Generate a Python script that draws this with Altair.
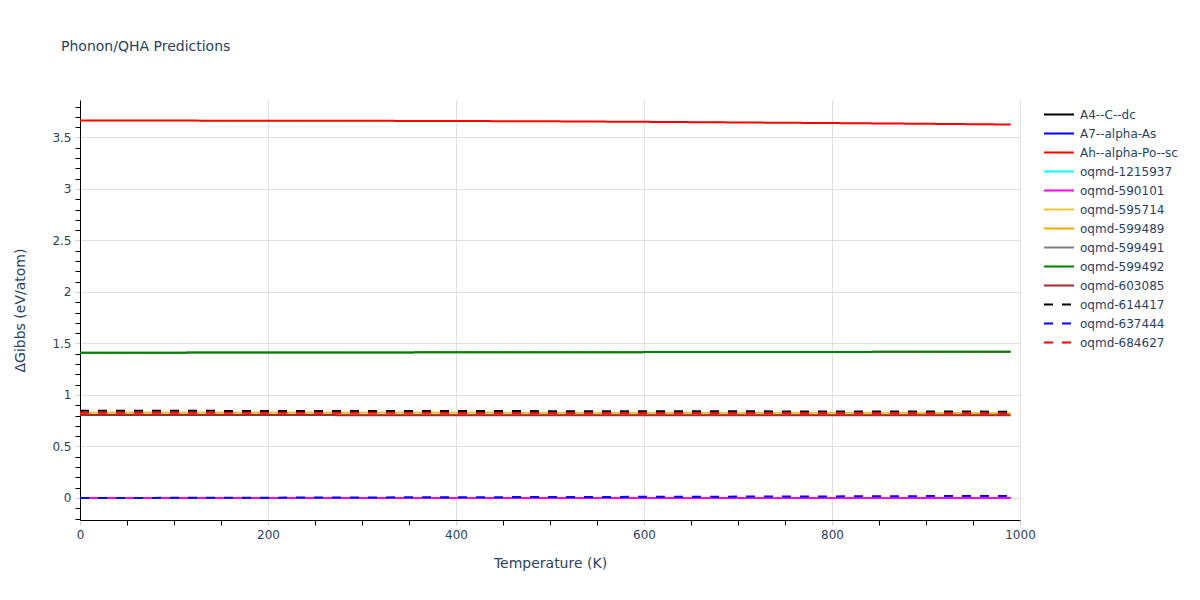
import altair as alt
import pandas as pd

temperatures = [0, 100, 200, 300, 400, 500, 600, 700, 800, 900, 990]

series_names = [
    "A4--C--dc", "A7--alpha-As", "Ah--alpha-Po--sc", "oqmd-1215937",
    "oqmd-590101", "oqmd-595714", "oqmd-599489", "oqmd-599491",
    "oqmd-599492", "oqmd-603085", "oqmd-614417", "oqmd-637444", "oqmd-684627",
]
series_colors = [
    "#000000", "#0000ff", "#ff0000", "#00ffff", "#ff00ff", "#f0c43c",
    "#ffa500", "#808080", "#008000", "#a52a2a", "#000000", "#0000ff", "#ff0000",
]
series_dashed = [False, False, False, False, False, False, False, False,
                 False, False, True, True, True]

a4_c_dc = [0.0, 0.0, 0.0, 0.0, 0.0, 0.0, 0.0, 0.0, 0.0, 0.0, 0.0]
a7_alpha_as = [0.0, 0.0, 0.0, 0.0, 0.0, 0.0, 0.0, 0.0, 0.0, 0.0, 0.0]
ah_alpha_po_sc = [3.665, 3.664, 3.663, 3.662, 3.660, 3.657, 3.652, 3.646, 3.640, 3.633, 3.626]
oqmd_1215937 = [0.0, 0.0, 0.0, 0.0, 0.0, 0.0, 0.0, 0.0, 0.0, 0.0, 0.0]
oqmd_590101 = [0.0, 0.0, 0.0, 0.0, 0.0, 0.0, 0.0, 0.0, 0.0, 0.0, 0.0]
oqmd_595714 = [0.830, 0.830, 0.830, 0.829, 0.829, 0.828, 0.828, 0.827, 0.827, 0.826, 0.826]
oqmd_599489 = [0.810, 0.810, 0.810, 0.809, 0.809, 0.809, 0.808, 0.808, 0.808, 0.807, 0.807]
oqmd_599491 = [1.410, 1.411, 1.412, 1.413, 1.414, 1.415, 1.416, 1.417, 1.418, 1.419, 1.420]
oqmd_599492 = [1.410, 1.411, 1.412, 1.413, 1.414, 1.415, 1.416, 1.417, 1.418, 1.419, 1.420]
oqmd_603085 = [0.805, 0.805, 0.805, 0.804, 0.804, 0.804, 0.803, 0.803, 0.803, 0.802, 0.802]
oqmd_614417 = [0.846, 0.846, 0.845, 0.845, 0.844, 0.843, 0.842, 0.841, 0.840, 0.839, 0.838]
oqmd_637444 = [0.000, 0.001, 0.003, 0.005, 0.007, 0.009, 0.011, 0.013, 0.015, 0.018, 0.020]
oqmd_684627 = [0.828, 0.828, 0.827, 0.827, 0.826, 0.826, 0.825, 0.824, 0.823, 0.822, 0.821]

series_values = [
    a4_c_dc, a7_alpha_as, ah_alpha_po_sc, oqmd_1215937, oqmd_590101,
    oqmd_595714, oqmd_599489, oqmd_599491, oqmd_599492, oqmd_603085,
    oqmd_614417, oqmd_637444, oqmd_684627,
]

x_ticks = [0, 50, 100, 150, 200, 250, 300, 350, 400, 450, 500, 550, 600,
           650, 700, 750, 800, 850, 900, 950, 1000]
y_ticks = [-0.2, -0.1, 0.0, 0.1, 0.2, 0.3, 0.4, 0.5, 0.6, 0.7, 0.8, 0.9, 1.0,
           1.1, 1.2, 1.3, 1.4, 1.5, 1.6, 1.7, 1.8, 1.9, 2.0, 2.1, 2.2, 2.3,
           2.4, 2.5, 2.6, 2.7, 2.8, 2.9, 3.0, 3.1, 3.2, 3.3, 3.4, 3.5, 3.6,
           3.7, 3.8]

rows = []
for order, (name, vals) in enumerate(zip(series_names, series_values)):
    for t, v in zip(temperatures, vals):
        rows.append({"series": name, "T": t, "G": v, "order": order})
df = pd.DataFrame(rows)

dash_range = [[9, 9] if d else [1, 0] for d in series_dashed]

FONT = "DejaVu Sans"
TXT = "#2a3f5f"

y_major = "abs(datum.value*2 - round(datum.value*2)) < 0.001"
x_major = "abs(datum.value/200 - round(datum.value/200)) < 0.001"

chart = alt.Chart(df).mark_line(strokeWidth=2, clip=True).encode(
    x=alt.X("T:Q", title="Temperature (K)",
            scale=alt.Scale(domain=[0, 1000], nice=False, zero=False),
            axis=alt.Axis(
                values=x_ticks,
                labelExpr=f"{x_major} ? format(datum.value, 'd') : ''",
                labelFlush=False, labelOverlap=False,
                tickSize=5, tickColor={"condition": {"test": x_major, "value": "#d0d0d0"}, "value": "#000000"},
                gridOpacity={"condition": {"test": x_major, "value": 1}, "value": 0},
                gridColor="#e0e0e0", domainColor="#000000",
                labelPadding=4, titlePadding=16,
            )),
    y=alt.Y("G:Q", title="ΔGibbs (eV/atom)",
            scale=alt.Scale(domain=[-0.214, 3.864], nice=False, zero=False),
            axis=alt.Axis(
                values=y_ticks,
                labelExpr=f"{y_major} ? format(datum.value, '~g') : ''",
                labelOverlap=False,
                tickSize=5, tickColor={"condition": {"test": y_major, "value": "#d0d0d0"}, "value": "#000000"},
                gridOpacity={"condition": {"test": y_major, "value": 1}, "value": 0},
                gridColor="#e0e0e0", domainColor="#000000",
                labelPadding=4, titlePadding=24,
            )),
    color=alt.Color("series:N", title=None,
                    scale=alt.Scale(domain=series_names, range=series_colors),
                    legend=alt.Legend(orient="none", legendX=963, legendY=5,
                                      symbolType="stroke", symbolSize=900,
                                      symbolStrokeWidth=2, clipHeight=19,
                                      rowPadding=0, labelOffset=5, padding=0,
                                      labelFontSize=12, labelColor=TXT,
                                      labelFont=FONT, labelLimit=200)),
    strokeDash=alt.StrokeDash("series:N", title=None,
                              scale=alt.Scale(domain=series_names, range=dash_range),
                              legend=alt.Legend(orient="none", legendX=963, legendY=5)),
    order=alt.Order("order:Q"),
).properties(
    width=940, height=420,
    title=alt.TitleParams("Phonon/QHA Predictions", anchor="start", frame="group",
                          dx=-19, offset=46, fontSize=14, font=FONT,
                          color=TXT, fontWeight="normal"),
    autosize=alt.AutoSizeParams(type="none"),
    padding={"left": 72, "top": 92, "right": 172, "bottom": 72},
).configure(background="white").configure_view(stroke=None).configure_axis(
    labelFont=FONT, labelFontSize=12, labelColor=TXT,
    titleFont=FONT, titleFontSize=14, titleColor=TXT, titleFontWeight="normal",
)

chart.save("out.html", embed_options={"renderer": "svg", "actions": False})
